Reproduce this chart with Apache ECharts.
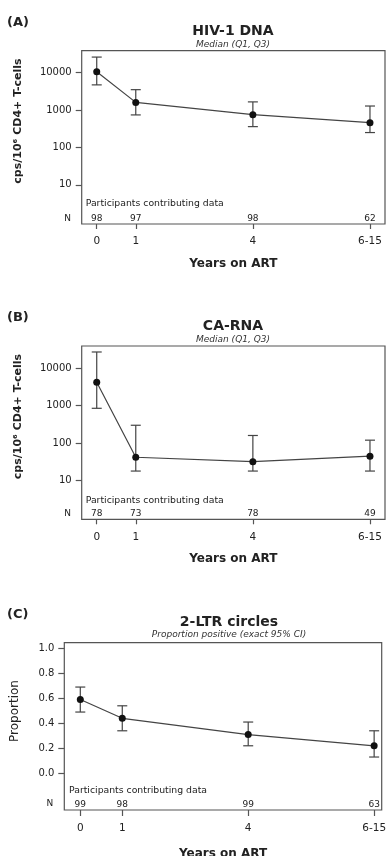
<!DOCTYPE html>
<html>
<head>
<meta charset="utf-8">
<script src="https://cdn.jsdelivr.net/npm/echarts@6/dist/echarts.min.js"></script>
<style>
  html, body { margin: 0; background: #fff; }
  #chart { width: 392px; height: 856px; }
</style>
</head>
<body>
<div id="chart"></div>
<script>
// x positions (6-15 years plotted as 7) and their tick labels
const years = [0, 1, 4, 7];
const yearLabels = ['0', '1', '4', '6-15'];

// (A) HIV-1 DNA, cps/10^6 CD4+ T-cells
const dnaMedian = [10500, 1600, 750, 460];
const dnaQ1 = [4700, 740, 360, 250];
const dnaQ3 = [26000, 3500, 1650, 1280];
const dnaN = [98, 97, 98, 62];

// (B) CA-RNA
const rnaMedian = [4200, 42, 32, 45];
const rnaQ1 = [850, 18, 18, 18];
const rnaQ3 = [27000, 300, 160, 120];
const rnaN = [78, 73, 78, 49];

// (C) 2-LTR circles, proportion positive
const ltrProp = [0.59, 0.44, 0.31, 0.22];
const ltrLow = [0.49, 0.34, 0.22, 0.13];
const ltrHigh = [0.69, 0.54, 0.41, 0.34];
const ltrN = [99, 98, 99, 63];

const logTicks = [10, 100, 1000, 10000];
const propTicks = [0, 0.2, 0.4, 0.6, 0.8, 1.0];

const DARK = '#222';
const AXIS = '#555';
const FONT = 'DejaVu Sans';

// layout of each panel
const panels = [
  {
    grid: { left: 81.7, top: 50.7, width: 303.3, height: 173.3 },
    xMin: -0.385, xMax: 7.385, yType: 'log', yMin: 0.9, yMax: 38500,
    yTicks: logTicks, yFmt: (v) => String(Math.round(v)),
    mid: dnaMedian, lo: dnaQ1, hi: dnaQ3, n: dnaN,
    tickLen: 5, labelMargin: 12, nameGap: 34
  },
  {
    grid: { left: 81.7, top: 346, width: 303.3, height: 173.3 },
    xMin: -0.385, xMax: 7.385, yType: 'log', yMin: 0.93, yMax: 39000,
    yTicks: logTicks, yFmt: (v) => String(Math.round(v)),
    mid: rnaMedian, lo: rnaQ1, hi: rnaQ3, n: rnaN,
    tickLen: 5, labelMargin: 12, nameGap: 34
  },
  {
    grid: { left: 64.3, top: 642.7, width: 317.4, height: 167.3 },
    xMin: -0.381, xMax: 7.18, yType: 'value', yMin: -0.294, yMax: 1.045,
    yTicks: propTicks, yFmt: (v) => v.toFixed(1),
    mid: ltrProp, lo: ltrLow, hi: ltrHigh, n: ltrN,
    tickLen: 6, labelMargin: 13, nameGap: 38
  }
];

const grids = [], xAxes = [], yAxes = [], series = [];

panels.forEach((p, i) => {
  // outerBoundsMode none: keep the box where it is even if the axis name runs off the page
  grids.push(Object.assign({
    show: true, borderColor: AXIS, borderWidth: 1.2, backgroundColor: 'transparent',
    containLabel: false, outerBoundsMode: 'none'
  }, p.grid));

  // main x axis
  xAxes.push({
    gridIndex: i, type: 'value', min: p.xMin, max: p.xMax, position: 'bottom',
    axisLine: { show: false, onZero: false },
    splitLine: { show: false },
    axisTick: { show: true, customValues: years, length: p.tickLen, lineStyle: { color: AXIS, width: 1.2 } },
    axisLabel: {
      customValues: years, margin: p.labelMargin, color: DARK, fontFamily: FONT, fontSize: 10.5,
      formatter: (v) => yearLabels[years.indexOf(v)]
    },
    name: 'Years on ART', nameLocation: 'middle', nameGap: p.nameGap,
    nameTextStyle: { fontFamily: FONT, fontWeight: 'bold', fontSize: 12, color: DARK }
  });

  // N row, drawn inside the box just above the bottom edge
  const nVals = p.n;
  xAxes.push({
    gridIndex: i, type: 'value', min: p.xMin, max: p.xMax, position: 'bottom',
    axisLine: { show: false, onZero: false }, axisTick: { show: false }, splitLine: { show: false },
    axisLabel: {
      inside: true, margin: 1, customValues: years, color: DARK, fontFamily: FONT, fontSize: 9,
      formatter: (v) => String(nVals[years.indexOf(v)])
    }
  });

  yAxes.push({
    gridIndex: i, type: p.yType, min: p.yMin, max: p.yMax, logBase: 10,
    axisLine: { show: false, onZero: false },
    splitLine: { show: false },
    axisTick: { show: true, customValues: p.yTicks, length: 6, lineStyle: { color: AXIS, width: 1.2 } },
    axisLabel: { customValues: p.yTicks, margin: 10, color: DARK, fontFamily: FONT, fontSize: 10, formatter: p.yFmt }
  });

  // error bars
  series.push({
    type: 'custom', xAxisIndex: i * 2, yAxisIndex: i, z: 2,
    data: years.map((x, k) => [x, p.lo[k], p.hi[k]]),
    renderItem: (params, api) => {
      const x = api.value(0);
      const a = api.coord([x, api.value(1)]);
      const b = api.coord([x, api.value(2)]);
      const w = 5;
      const st = { stroke: '#444', lineWidth: 1.2 };
      return {
        type: 'group',
        children: [
          { type: 'line', shape: { x1: a[0], y1: a[1], x2: b[0], y2: b[1] }, style: st },
          { type: 'line', shape: { x1: a[0] - w, y1: a[1], x2: a[0] + w, y2: a[1] }, style: st },
          { type: 'line', shape: { x1: b[0] - w, y1: b[1], x2: b[0] + w, y2: b[1] }, style: st }
        ]
      };
    }
  });

  // medians / proportions
  series.push({
    type: 'line', xAxisIndex: i * 2, yAxisIndex: i, z: 3,
    data: years.map((x, k) => [x, p.mid[k]]),
    symbol: 'circle', symbolSize: 7,
    itemStyle: { color: '#111' },
    lineStyle: { color: '#444', width: 1.2 }
  });
});

function txt(x, y, text, size, extra) {
  return {
    type: 'text', x: x, y: y, rotation: (extra && extra.rot) || 0,
    style: Object.assign({
      text: text, fill: DARK, fontFamily: FONT, fontSize: size,
      align: 'center', verticalAlign: 'middle'
    }, (extra && extra.style) || {})
  };
}

const bold = { style: { fontWeight: 'bold' } };
const italic = { style: { fontStyle: 'italic', fill: '#333' } };
const left = { style: { align: 'left' } };
const right = { style: { align: 'right' } };

const graphics = [
  // panel A
  txt(7, 23, '(A)', 13, { style: { fontWeight: 'bold', align: 'left' } }),
  txt(233, 31.7, 'HIV-1 DNA', 14, bold),
  txt(233, 44.3, 'Median (Q1, Q3)', 9, italic),
  txt(18, 121, 'cps/10\u2076 CD4+ T-cells', 11, { rot: Math.PI / 2, style: { fontWeight: 'bold' } }),
  txt(85.7, 204, 'Participants contributing data', 9.3, left),
  txt(71, 218.3, 'N', 9, right),
  // panel B
  txt(7, 318, '(B)', 13, { style: { fontWeight: 'bold', align: 'left' } }),
  txt(233, 326.7, 'CA-RNA', 14, bold),
  txt(233, 340, 'Median (Q1, Q3)', 9, italic),
  txt(18, 416.5, 'cps/10\u2076 CD4+ T-cells', 11, { rot: Math.PI / 2, style: { fontWeight: 'bold' } }),
  txt(85.7, 500.7, 'Participants contributing data', 9.3, left),
  txt(71, 513.3, 'N', 9, right),
  // panel C
  txt(7, 614.3, '(C)', 13, { style: { fontWeight: 'bold', align: 'left' } }),
  txt(229, 622.3, '2-LTR circles', 14, bold),
  txt(229, 635, 'Proportion positive (exact 95% CI)', 9, italic),
  txt(15, 711, 'Proportion', 12, { rot: Math.PI / 2 }),
  txt(69, 790.7, 'Participants contributing data', 9.3, left),
  txt(53.3, 803.3, 'N', 9, right)
];

const chart = echarts.init(document.getElementById('chart'), null, { renderer: 'canvas' });
chart.setOption({
  animation: false,
  backgroundColor: '#fff',
  grid: grids,
  xAxis: xAxes,
  yAxis: yAxes,
  series: series,
  graphic: graphics
});
</script>
</body>
</html>
